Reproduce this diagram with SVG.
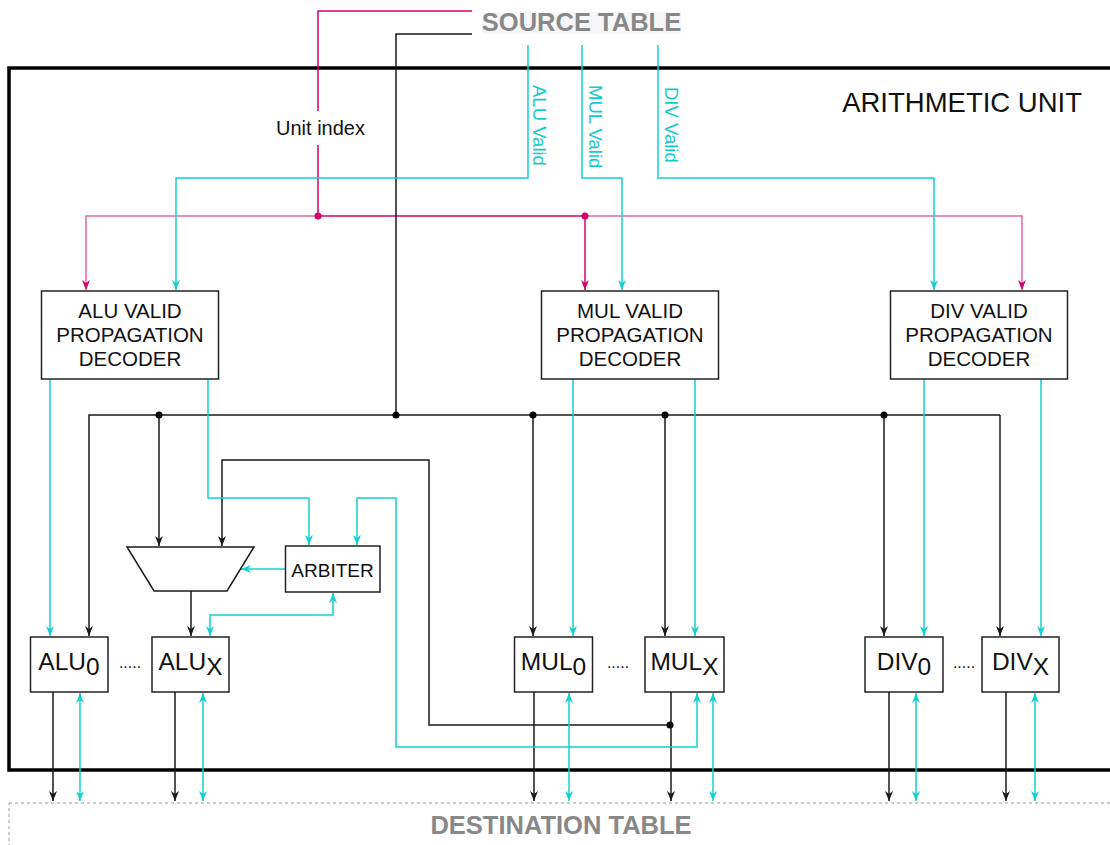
<svg xmlns="http://www.w3.org/2000/svg" width="1110" height="845" viewBox="0 0 1110 845">
  <style>
    text { font-family: "Liberation Sans", Arial, sans-serif; }
    .box { fill: #ffffff; stroke: #222222; stroke-width: 1.5; }
    .lbl { font-size: 20.5px; fill: #111111; text-anchor: middle; }
    .unit { font-size: 24.5px; fill: #111111; text-anchor: middle; }
    .dots { font-size: 16px; fill: #111111; text-anchor: middle; }
    .vlbl { font-size: 18.5px; fill: #12cccc; }
    .blk { fill: none; stroke: #1a1a1a; stroke-width: 1.5; }
    .cy { fill: none; stroke: #14d0d0; stroke-width: 1.5; }
    .pk { fill: none; stroke: #d5006d; stroke-width: 1.5; }
    .pkl { fill: none; stroke: #e06aa2; stroke-width: 1.5; }
    .tbl { font-size: 25.5px; font-weight: bold; fill: #888888; text-anchor: middle; }
  </style>
  <defs>
    <marker id="ab" viewBox="0 0 10 10" refX="10" refY="5" markerWidth="10" markerHeight="10" markerUnits="userSpaceOnUse" orient="auto-start-reverse">
      <path d="M0,1 L10,5 L0,9 L3,5 z" fill="#1a1a1a"/>
    </marker>
    <marker id="ac" viewBox="0 0 10 10" refX="10" refY="5" markerWidth="10" markerHeight="10" markerUnits="userSpaceOnUse" orient="auto-start-reverse">
      <path d="M0,1 L10,5 L0,9 L3,5 z" fill="#14d0d0"/>
    </marker>
    <marker id="ap" viewBox="0 0 10 10" refX="10" refY="5" markerWidth="10" markerHeight="10" markerUnits="userSpaceOnUse" orient="auto-start-reverse">
      <path d="M0,1 L10,5 L0,9 L3,5 z" fill="#d5006d"/>
    </marker>
  </defs>

  <rect width="1110" height="845" fill="#ffffff"/>

  <!-- source table header -->
  <g id="source-table">
    <rect x="482" y="12" width="199" height="22" fill="#f7f7f9"/>
    <text class="tbl" x="581.5" y="31">SOURCE TABLE</text>
  </g>

  <!-- destination table -->
  <g id="destination-table">
    <rect x="9" y="803" width="1120" height="60" fill="none" stroke="#9a9a9a" stroke-width="1" stroke-dasharray="3 3"/>
    <text class="tbl" x="561" y="834">DESTINATION TABLE</text>
  </g>

  <!-- arithmetic unit container -->
  <g id="arithmetic-unit">
    <rect x="9" y="68" width="1115" height="702" fill="none" stroke="#000000" stroke-width="3.5"/>
    <text x="1082" y="112" font-size="27.5" fill="#111111" text-anchor="end">ARITHMETIC UNIT</text>
  </g>

  <!-- connectors -->
  <g id="connectors">
    <!-- unit index (pink) -->
    <path class="pk" d="M472,11 H318 V216"/>
    <path class="pkl" d="M318,216 H86 V290" marker-end="url(#ap)"/>
    <path class="pk" d="M318,216 H585"/>
    <path class="pkl" d="M585,216 H1022 V290" marker-end="url(#ap)"/>
    <path class="pk" d="M585,216 V290" marker-end="url(#ap)"/>
    <circle cx="318" cy="216" r="3.5" fill="#d5006d"/>
    <circle cx="585" cy="216" r="3.5" fill="#d5006d"/>

    <!-- operand bus (black) -->
    <path class="blk" stroke-width="2" d="M472,34 H396 V415"/>
    <path class="blk" stroke-width="2" d="M396,415 H1000"/>
    <path class="blk" d="M396,415 H89 V636" marker-end="url(#ab)"/>
    <path class="blk" d="M1000,415 V636" marker-end="url(#ab)"/>
    <path class="blk" d="M159,415 V546" marker-end="url(#ab)"/>
    <path class="blk" d="M533,415 V636" marker-end="url(#ab)"/>
    <path class="blk" d="M665,415 V636" marker-end="url(#ab)"/>
    <path class="blk" d="M884,415 V636" marker-end="url(#ab)"/>
    <circle cx="396" cy="415" r="3.5" fill="#000"/>
    <circle cx="159" cy="415" r="3.5" fill="#000"/>
    <circle cx="533" cy="415" r="3.5" fill="#000"/>
    <circle cx="665" cy="415" r="3.5" fill="#000"/>
    <circle cx="884" cy="415" r="3.5" fill="#000"/>

    <!-- MULx result looped back to mux -->
    <path class="blk" d="M670,725 H429 V460 H222 V546" marker-end="url(#ab)"/>
    <circle cx="670" cy="725" r="3.5" fill="#000"/>
    <!-- mux output -->
    <path class="blk" d="M191,591 V636" marker-end="url(#ab)"/>

    <!-- unit results to destination -->
    <path class="blk" d="M53,692 V801" marker-end="url(#ab)"/>
    <path class="blk" d="M175,692 V801" marker-end="url(#ab)"/>
    <path class="blk" d="M534,692 V801" marker-end="url(#ab)"/>
    <path class="blk" d="M671,692 V801" marker-end="url(#ab)"/>
    <path class="blk" d="M889,692 V801" marker-end="url(#ab)"/>
    <path class="blk" d="M1006,692 V801" marker-end="url(#ab)"/>

    <!-- valid signals (cyan) -->
    <path class="cy" d="M528,45 V178 H176 V290" marker-end="url(#ac)"/>
    <path class="cy" d="M582,45 V178 H622 V290" marker-end="url(#ac)"/>
    <path class="cy" d="M658,45 V178 H934 V290" marker-end="url(#ac)"/>

    <path class="cy" d="M50,379 V636" marker-end="url(#ac)"/>
    <path class="cy" d="M208,379 V498 H309 V545" marker-end="url(#ac)"/>
    <path class="cy" d="M573,379 V636" marker-end="url(#ac)"/>
    <path class="cy" d="M695,379 V636" marker-end="url(#ac)"/>
    <path class="cy" d="M924,379 V636" marker-end="url(#ac)"/>
    <path class="cy" d="M1041,379 V636" marker-end="url(#ac)"/>

    <!-- arbiter links -->
    <path class="cy" d="M285,569 H241" marker-end="url(#ac)"/>
    <path class="cy" d="M210,636 V615 H333 V593" marker-start="url(#ac)" marker-end="url(#ac)"/>
    <path class="cy" d="M357,545 V498 H396 V747 H697 V693" marker-start="url(#ac)" marker-end="url(#ac)"/>

    <!-- valid/ack to destination -->
    <path class="cy" d="M80,693 V801" marker-start="url(#ac)" marker-end="url(#ac)"/>
    <path class="cy" d="M203,693 V801" marker-start="url(#ac)" marker-end="url(#ac)"/>
    <path class="cy" d="M569,693 V801" marker-start="url(#ac)" marker-end="url(#ac)"/>
    <path class="cy" d="M713,693 V801" marker-start="url(#ac)" marker-end="url(#ac)"/>
    <path class="cy" d="M916,693 V801" marker-start="url(#ac)" marker-end="url(#ac)"/>
    <path class="cy" d="M1035,693 V801" marker-start="url(#ac)" marker-end="url(#ac)"/>

    <!-- labels on connectors -->
    <rect x="273" y="111" width="94" height="34" fill="#ffffff"/>
    <text x="320.5" y="135" font-size="20" fill="#111111" text-anchor="middle">Unit index</text>
    <text class="vlbl" transform="translate(533,85) rotate(90)">ALU Valid</text>
    <text class="vlbl" transform="translate(589,85) rotate(90)">MUL Valid</text>
    <text class="vlbl" transform="translate(665,87) rotate(90)">DIV Valid</text>
  </g>

  <!-- decoders -->
  <g id="alu-decoder">
    <rect class="box" x="41.5" y="291" width="177" height="88"/>
    <text class="lbl" x="130" y="318">ALU VALID</text>
    <text class="lbl" x="130" y="342">PROPAGATION</text>
    <text class="lbl" x="130" y="366">DECODER</text>
  </g>
  <g id="mul-decoder">
    <rect class="box" x="541.5" y="291" width="177" height="88"/>
    <text class="lbl" x="630" y="318">MUL VALID</text>
    <text class="lbl" x="630" y="342">PROPAGATION</text>
    <text class="lbl" x="630" y="366">DECODER</text>
  </g>
  <g id="div-decoder">
    <rect class="box" x="890.5" y="291" width="177" height="88"/>
    <text class="lbl" x="979" y="318">DIV VALID</text>
    <text class="lbl" x="979" y="342">PROPAGATION</text>
    <text class="lbl" x="979" y="366">DECODER</text>
  </g>

  <!-- mux and arbiter -->
  <g id="mux">
    <path d="M127,547 H254 L227,591 H154 Z" fill="#ffffff" stroke="#1a1a1a" stroke-width="1.5"/>
  </g>
  <g id="arbiter">
    <rect class="box" x="285.5" y="546" width="94.5" height="46"/>
    <text x="332.5" y="576.5" font-size="19" fill="#111111" text-anchor="middle">ARBITER</text>
  </g>

  <!-- execution units -->
  <g id="alu0">
    <rect class="box" x="30.5" y="637" width="77.5" height="55"/>
    <text class="unit" x="69" y="670">ALU<tspan dy="5">0</tspan></text>
  </g>
  <g id="alu-dots"><text class="dots" x="130" y="668">.....</text></g>
  <g id="alux">
    <rect class="box" x="152" y="637" width="77" height="55"/>
    <text class="unit" x="190.5" y="670">ALU<tspan dy="5">X</tspan></text>
  </g>

  <g id="mul0">
    <rect class="box" x="514.5" y="637" width="78" height="55"/>
    <text class="unit" x="553.5" y="670">MUL<tspan dy="5">0</tspan></text>
  </g>
  <g id="mul-dots"><text class="dots" x="618" y="668">.....</text></g>
  <g id="mulx">
    <rect class="box" x="645" y="637" width="79" height="55"/>
    <text class="unit" x="684.5" y="670">MUL<tspan dy="5">X</tspan></text>
  </g>

  <g id="div0">
    <rect class="box" x="865" y="637" width="78" height="55"/>
    <text class="unit" x="904" y="670">DIV<tspan dy="5">0</tspan></text>
  </g>
  <g id="div-dots"><text class="dots" x="964" y="668">.....</text></g>
  <g id="divx">
    <rect class="box" x="982" y="637" width="77" height="55"/>
    <text class="unit" x="1020.5" y="670">DIV<tspan dy="5">X</tspan></text>
  </g>
</svg>
